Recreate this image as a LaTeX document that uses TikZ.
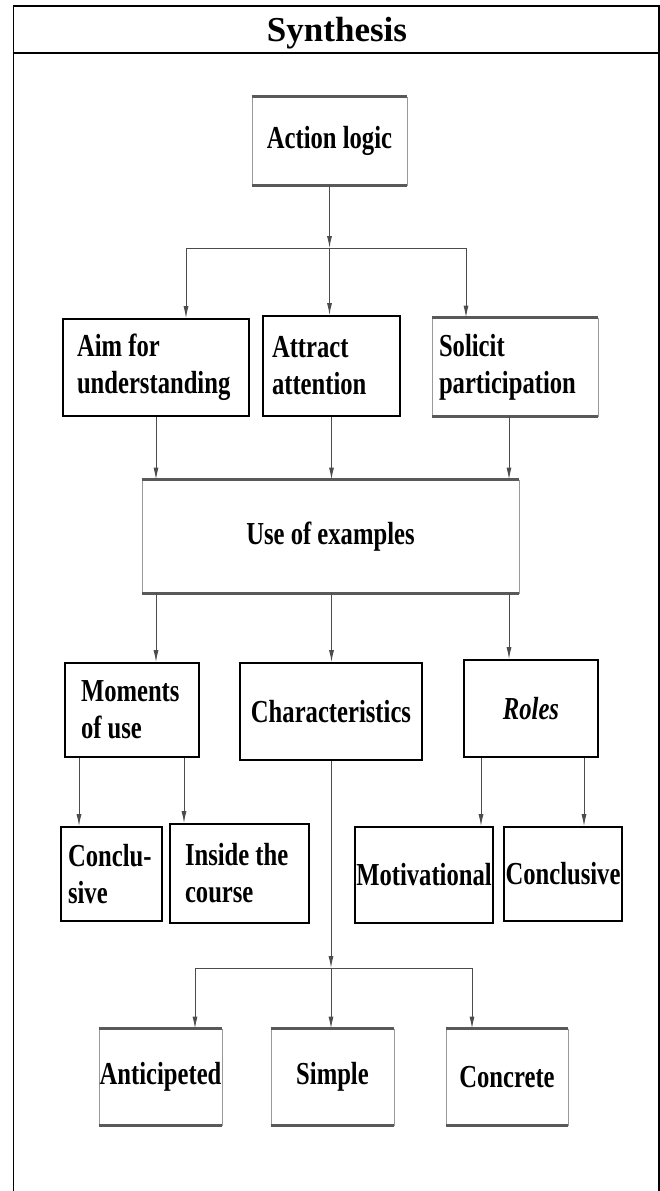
\documentclass[tikz,border=0pt]{standalone}
\usepackage{fontspec}
\setmainfont{Liberation Serif}
\newfontfamily\boxfont[FakeStretch=0.77]{Liberation Serif}
\usetikzlibrary{arrows.meta}
\tikzset{
  box/.style={draw=black, line width=1.6pt, inner sep=0pt, align=center,
    font=\boxfont\bfseries\fontsize{32}{37}\selectfont},
  pale/.style={box, draw=black!40, line width=0.8pt},
  rim/.style={draw=black!65, line width=2.4pt},
  link/.style={draw=black!70, line width=1pt},
  arr/.style={link, -{Latex[length=12pt,width=5pt]}},
  frame/.style={draw=black, line width=1.5pt},
}
\begin{document}
\begin{tikzpicture}[x=1pt,y=-1pt]
	\useasboundingbox (0,0) rectangle (660,1191);
	% outer table
	\draw[frame] (13.5,1191) -- (13.5,6) -- (659,6) -- (659,1191);
	\draw[frame] (13.5,53) -- (659,53);
	\node[font=\bfseries\fontsize{35}{40}\selectfont, anchor=base] (ttl) at (337,41) {Synthesis};
	% boxes
	\node[pale, minimum width=155pt, minimum height=88pt] (act) at (329.5,141) {Action logic};
	\node[box, align=flush left, text width=158pt, inner xsep=14pt, minimum height=97pt] (aim) at (156,367.5) {Aim for\\understanding};
	\node[box, align=flush left, text width=119pt, inner xsep=9pt, minimum height=100pt] (att) at (331.5,366) {Attract\\attention};
	\node[pale, align=flush left, text width=152pt, inner xsep=7pt, minimum height=98pt] (sol) at (515,367) {Solicit\\participation};
	\node[pale, minimum width=377pt, minimum height=113pt] (use) at (330.5,536.5) {Use of examples};
	\node[box, align=flush left, text width=102pt, inner xsep=16pt, minimum height=94pt] (mom) at (132,710) {Moments\\of use};
	\node[box, minimum width=182pt, minimum height=97pt] (chr) at (331,711.5) {Characteristics};
	\node[box, minimum width=134pt, minimum height=97pt] (rol) at (531,708.5) {\itshape Roles};
	\node[box, align=flush left, text width=87pt, inner xsep=7pt, minimum height=94pt] (cls) at (111.5,874) {Conclu-\\sive};
	\node[box, align=flush left, text width=109pt, inner xsep=15pt, minimum height=99pt] (ins) at (239.5,873.5) {Inside the\\course};
	\node[box, minimum width=138pt, minimum height=96pt] (mot) at (424,875) {Motivational};
	\node[box, minimum width=118pt, minimum height=94pt] (con) at (563,874) {Conclusive};
	\node[pale, minimum width=123pt, minimum height=96pt] (ant) at (160.5,1077) {Anticipeted};
	\node[pale, minimum width=123pt, minimum height=96pt] (sim) at (332.5,1077) {Simple};
	\node[pale, minimum width=122pt, minimum height=96pt] (cnc) at (507,1077) {Concrete};
	\foreach \n in {act,sol,use,ant,sim,cnc}
		\draw[rim] (\n.north west) -- (\n.north east) (\n.south west) -- (\n.south east);
	% action logic to the three aims
	\coordinate (l1) at (186,248);
	\coordinate (r1) at (466,248);
	\draw[arr] (act.south) -- (act.south |- l1);
	\draw[link] (l1) -- (r1);
	\draw[arr] (l1) -- (l1 |- aim.north);
	\draw[arr] (act.south |- l1) -- (act.south |- att.north);
	\draw[arr] (r1) -- (r1 |- sol.north);
	% into use of examples
	\coordinate (s2) at ([xshift=-6pt]sol.south);
	\foreach \n in {aim,att} \draw[arr] (\n.south) -- (\n.south |- use.north);
	\draw[arr] (s2) -- (s2 |- use.north);
	\draw[arr] (aim.south |- use.south) -- (aim.south |- mom.north);
	\draw[arr] (att.south |- use.south) -- (att.south |- chr.north);
	\draw[arr] (s2 |- use.south) -- (s2 |- rol.north);
	% moments and roles
	\coordinate (m1) at ([xshift=-53pt]mom.south);
	\coordinate (m2) at ([xshift=52pt]mom.south);
	\coordinate (q1) at ([xshift=-50pt]rol.south);
	\coordinate (q2) at ([xshift=53pt]rol.south);
	\draw[arr] (m1) -- (m1 |- cls.north);
	\draw[arr] (m2) -- (m2 |- ins.north);
	\draw[arr] (q1) -- (q1 |- mot.north);
	\draw[arr] (q2) -- (q2 |- con.north);
	% characteristics
	\coordinate (l2) at (195,968);
	\coordinate (r2) at (472,968);
	\draw[arr] (chr.south) -- (chr.south |- l2);
	\draw[link] (l2) -- (r2);
	\draw[arr] (l2) -- (l2 |- ant.north);
	\draw[arr] (chr.south |- l2) -- (chr.south |- sim.north);
	\draw[arr] (r2) -- (r2 |- cnc.north);
\end{tikzpicture}
\end{document}
